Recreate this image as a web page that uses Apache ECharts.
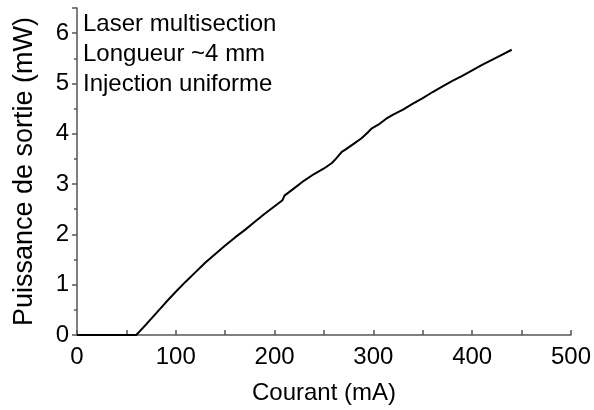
<!DOCTYPE html>
<html>
<head>
<meta charset="utf-8">
<script src="https://cdn.jsdelivr.net/npm/echarts@6/dist/echarts.min.js"></script>
<style>html,body{margin:0;padding:0;background:#fff}#c{width:594px;height:410px}</style>
</head>
<body>
<div id="c"></div>
<script>
const current = [0, 20, 40, 60, 70, 80, 90, 100, 110, 120, 130, 140, 150, 160, 170, 180, 190, 200, 208, 210, 220, 230, 240, 250, 258, 262, 268, 272, 280, 288, 294, 298, 305, 313, 320, 330, 340, 350, 360, 370, 380, 390, 400, 410, 420, 430, 440];
const power = [0, 0, 0, 0, 0.21, 0.43, 0.65, 0.86, 1.06, 1.25, 1.44, 1.61, 1.78, 1.94, 2.09, 2.25, 2.41, 2.56, 2.68, 2.77, 2.92, 3.07, 3.20, 3.31, 3.42, 3.50, 3.64, 3.69, 3.80, 3.91, 4.02, 4.10, 4.18, 4.30, 4.38, 4.48, 4.60, 4.71, 4.83, 4.94, 5.05, 5.15, 5.26, 5.37, 5.47, 5.57, 5.67];
const annotations = ['Laser multisection', 'Longueur ~4 mm', 'Injection uniforme'];
const xTitle = 'Courant (mA)';
const yTitle = 'Puissance de sortie (mW)';

const font = 'Liberation Sans';
const fs = 24;
const chart = echarts.init(document.getElementById('c'));
chart.setOption({
  animation: false,
  backgroundColor: '#fff',
  grid: {left: 77, right: 20, top: 8, bottom: 75, containLabel: false},
  xAxis: {
    type: 'value', min: 0, max: 500, interval: 100,
    name: xTitle, nameLocation: 'middle', nameGap: 46,
    nameTextStyle: {fontFamily: font, fontSize: fs, color: '#000'},
    axisLine: {show: true, onZero: false, lineStyle: {color: '#555', width: 1.5}},
    axisTick: {show: true, inside: true, length: 5, lineStyle: {color: '#555', width: 1.5}},
    minorTick: {show: true, splitNumber: 2, length: 5, lineStyle: {color: '#555', width: 1.5}},
    axisLabel: {fontFamily: font, fontSize: fs, color: '#000', margin: 10},
    splitLine: {show: false}
  },
  yAxis: {
    type: 'value', min: 0, max: 6.5, interval: 1,
    name: yTitle, nameLocation: 'middle', nameGap: 39, nameRotate: 90,
    nameTextStyle: {fontFamily: font, fontSize: 27, color: '#000'},
    axisLine: {show: true, onZero: false, lineStyle: {color: '#555', width: 1.5}},
    axisTick: {show: true, inside: false, length: 5, lineStyle: {color: '#555', width: 1.5}},
    minorTick: {show: true, splitNumber: 2, length: 3, lineStyle: {color: '#555', width: 1.5}},
    axisLabel: {fontFamily: font, fontSize: fs, color: '#000', margin: 8, showMaxLabel: false},
    splitLine: {show: false}
  },
  graphic: [{
    type: 'text', left: 83, top: 9,
    style: {text: annotations.join('\n'), font: fs + 'px "' + font + '"', fill: '#000', lineHeight: 30}
  }],
  series: [{
    type: 'line',
    data: current.map((c, i) => [c, power[i]]),
    showSymbol: false, symbol: 'none',
    lineStyle: {color: '#000', width: 2},
    clip: false
  }]
});
</script>
</body>
</html>
